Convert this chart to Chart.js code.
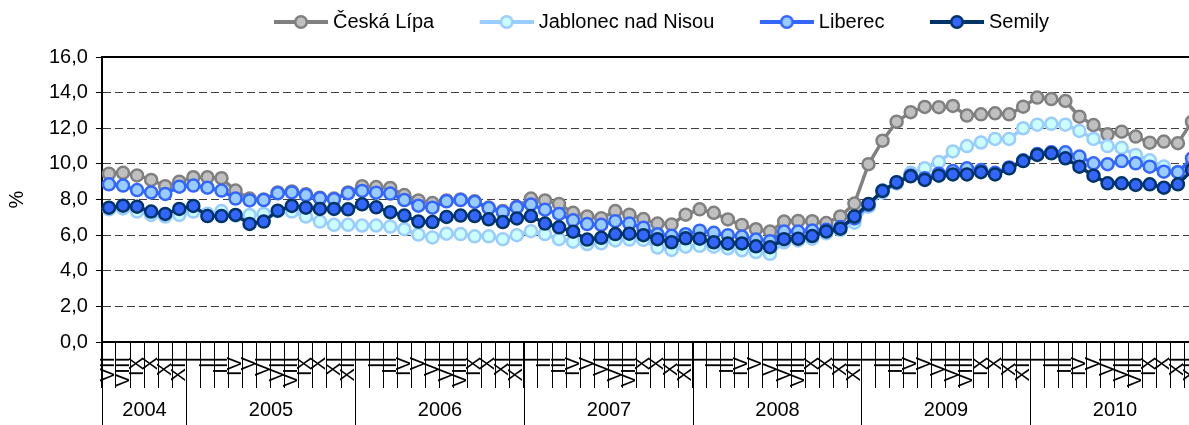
<!DOCTYPE html>
<html>
<head>
<meta charset="utf-8">
<script src="https://cdn.jsdelivr.net/npm/chart.js@4.4.1/dist/chart.umd.min.js"></script>
<style>
  html, body { margin: 0; padding: 0; background: #fff; overflow: hidden; }
  #wrap { width: 1189px; height: 425px; overflow: hidden; }
</style>
</head>
<body>
<div id="wrap"><canvas id="graf" width="1210" height="425"></canvas></div>
<script>
// Míra nezaměstnanosti (%) podle okresů, měsíčně VII/2004 - XII/2010
const roman = ['I', 'II', 'III', 'IV', 'V', 'VI', 'VII', 'VIII', 'IX', 'X', 'XI', 'XII'];
const years = ['2004', '2005', '2006', '2007', '2008', '2009', '2010'];
const yearMonths = [6, 12, 12, 12, 12, 12, 12];

const ceskaLipa = [
  9.45, 9.5, 9.35, 9.1, 8.75, 9.0,
  9.25, 9.25, 9.2, 8.5, 8.05, 8.0, 8.4, 8.45, 8.3, 8.1, 8.05, 8.4,
  8.75, 8.7, 8.65, 8.25, 7.95, 7.8, 7.95, 8.0, 7.9, 7.55, 7.35, 7.6,
  8.05, 7.95, 7.75, 7.25, 7.05, 6.95, 7.35, 7.15, 6.9, 6.65, 6.6, 7.15,
  7.45, 7.25, 6.88, 6.57, 6.33, 6.2, 6.76, 6.8, 6.78, 6.68, 7.05, 7.77,
  9.98, 11.3, 12.37, 12.9, 13.2, 13.18, 13.25, 12.71, 12.78, 12.84, 12.78, 13.21,
  13.72, 13.64, 13.53, 12.65, 12.18, 11.66, 11.81, 11.53, 11.19, 11.25, 11.16, 12.37
];
const jablonec = [
  7.45, 7.5, 7.32, 7.13, 7.04, 7.13,
  7.32, 7.2, 7.35, 7.1, 7.13, 7.19, 7.35, 7.32, 7.04, 6.76, 6.58, 6.58,
  6.54, 6.54, 6.48, 6.33, 6.03, 5.87, 6.08, 6.06, 5.93, 5.93, 5.77, 6.0,
  6.22, 6.06, 5.77, 5.63, 5.5, 5.54, 5.7, 5.75, 5.73, 5.3, 5.17, 5.35,
  5.4, 5.35, 5.26, 5.15, 5.05, 4.95, 5.6, 5.7, 5.8, 6.1, 6.3, 6.7,
  7.6, 8.4, 8.9, 9.5, 9.75, 10.1, 10.7, 11.0, 11.2, 11.4, 11.4, 12.0,
  12.2, 12.25, 12.2, 11.85, 11.4, 11.0, 10.9, 10.5, 10.2, 9.85, 9.55, 9.9
];
const liberec = [
  8.85, 8.78, 8.53, 8.4, 8.31, 8.72,
  8.78, 8.66, 8.5, 8.05, 7.95, 7.97, 8.35, 8.4, 8.25, 8.07, 8.01, 8.35,
  8.48, 8.38, 8.33, 7.97, 7.65, 7.54, 7.9, 7.97, 7.86, 7.52, 7.3, 7.56,
  7.72, 7.43, 7.19, 6.83, 6.62, 6.58, 6.78, 6.65, 6.42, 6.05, 5.96, 6.05,
  6.25, 6.13, 6.0, 5.92, 5.75, 5.66, 6.2, 6.2, 6.26, 6.3, 6.45, 6.94,
  7.7, 8.5, 8.95, 9.35, 9.2, 9.45, 9.6, 9.75, 9.65, 9.5, 9.8, 10.2,
  10.55, 10.65, 10.65, 10.41, 10.03, 9.98, 10.16, 10.03, 9.84, 9.56, 9.53, 10.31
];
const semily = [
  7.54, 7.65, 7.6, 7.32, 7.19, 7.47,
  7.64, 7.07, 7.07, 7.13, 6.63, 6.76, 7.37, 7.64, 7.54, 7.47, 7.47, 7.45,
  7.73, 7.56, 7.29, 7.1, 6.76, 6.73, 7.02, 7.1, 7.07, 6.89, 6.73, 6.94,
  7.07, 6.65, 6.44, 6.19, 5.75, 5.85, 6.06, 6.08, 6.0, 5.77, 5.6, 5.82,
  5.8, 5.6, 5.53, 5.53, 5.37, 5.32, 5.77, 5.8, 5.95, 6.21, 6.36, 7.05,
  7.75, 8.48, 8.97, 9.3, 9.1, 9.34, 9.41, 9.41, 9.53, 9.41, 9.75, 10.16,
  10.5, 10.59, 10.31, 9.84, 9.34, 8.91, 8.91, 8.82, 8.85, 8.66, 8.85, 9.66
];

// popisky měsíců (římská čísla)
const months = [];
yearMonths.forEach(n => {
  for (let m = 12 - n; m < 12; m++) months.push(roman[m]);
});

Chart.defaults.font.family = '"Liberation Sans", Arial, sans-serif';
Chart.defaults.font.size = 20;
Chart.defaults.color = '#000';

// značka do legendy: čára s kolečkem (vlevo prázdné místo jako mezera mezi položkami)
function legendSymbol(line, fill, edge) {
  const c = document.createElement('canvas');
  c.width = 81; c.height = 16;
  const g = c.getContext('2d');
  g.strokeStyle = line; g.lineWidth = 4;
  g.beginPath(); g.moveTo(27, 8); g.lineTo(81, 8); g.stroke();
  g.beginPath(); g.arc(54, 8, 5.75, 0, Math.PI * 2);
  g.fillStyle = fill; g.fill();
  g.lineWidth = 2.5; g.strokeStyle = edge; g.stroke();
  return c;
}

function serie(label, data, line, fill, order) {
  return {
    label: label,
    data: data,
    borderColor: line,
    backgroundColor: fill,
    pointBackgroundColor: fill,
    pointBorderColor: line,
    borderWidth: 3.5,
    pointRadius: 6,
    pointBorderWidth: 2.5,
    tension: 0,
    order: order
  };
}

const datasets = [
  serie('Česká Lípa', ceskaLipa, '#808080', '#C0C0C0', 4),
  serie('Jablonec nad Nisou', jablonec, '#99CCFF', '#CCFFFF', 3),
  serie('Liberec', liberec, '#3366FF', '#99CCFF', 2),
  serie('Semily', semily, '#003366', '#3366FF', 1)
];
const symbols = datasets.map(d => legendSymbol(d.borderColor, d.pointBackgroundColor, d.pointBorderColor));

// mezera pod legendou
const legendGap = {
  id: 'legendGap',
  beforeInit(chart) {
    const fit = chart.legend.fit;
    chart.legend.fit = function () {
      fit.call(this);
      this.height += 15;
    };
  }
};

// horní okraj grafu, roky a svislé čáry mezi roky
const yearAxis = {
  id: 'yearAxis',
  afterDraw(chart) {
    const { ctx, chartArea: a, scales: { x } } = chart;
    const half = (x.getPixelForValue(1) - x.getPixelForValue(0)) / 2;
    ctx.save();
    ctx.strokeStyle = '#000';
    ctx.lineWidth = 2;
    ctx.beginPath();
    ctx.moveTo(a.left - 1, a.top);
    ctx.lineTo(a.right, a.top);
    ctx.lineTo(a.right, a.bottom);
    ctx.stroke();

    ctx.lineWidth = 1;
    ctx.fillStyle = '#000';
    ctx.font = '20px "Liberation Sans", Arial, sans-serif';
    ctx.textAlign = 'center';
    ctx.textBaseline = 'middle';
    let start = 0;
    years.forEach((yr, k) => {
      const x0 = Math.round(x.getPixelForValue(start) - half) + 0.5;
      const x1 = Math.round(x.getPixelForValue(start + yearMonths[k] - 1) + half) + 0.5;
      ctx.beginPath();
      ctx.moveTo(x0, x.top);
      ctx.lineTo(x0, chart.height);
      ctx.moveTo(x1, x.top);
      ctx.lineTo(x1, chart.height);
      ctx.stroke();
      ctx.fillText(yr, (x0 + x1) / 2, x.top + 68);
      start += yearMonths[k];
    });
    ctx.restore();
  }
};

const ctx = document.getElementById('graf').getContext('2d');
const chart = new Chart(ctx, {
  type: 'line',
  data: { labels: months, datasets: datasets },
  plugins: [legendGap, yearAxis],
  options: {
    responsive: false,
    animation: false,
    devicePixelRatio: 1,
    layout: { padding: { top: -11.5, left: 0, right: 11, bottom: 0 } },
    plugins: {
      tooltip: { enabled: false },
      legend: {
        position: 'top',
        fullSize: false,
        labels: {
          usePointStyle: true,
          pointStyleWidth: 71,
          padding: 23.5,
          color: '#000',
          font: { size: 20 },
          sort: (a, b) => a.datasetIndex - b.datasetIndex,
          generateLabels(chart) {
            const items = Chart.defaults.plugins.legend.labels.generateLabels(chart);
            items.forEach(it => { it.pointStyle = symbols[it.datasetIndex]; });
            return items;
          }
        }
      }
    },
    scales: {
      x: {
        offset: true,
        afterFit: scale => { scale.height = 83; },
        grid: {
          display: true,
          drawOnChartArea: false,
          offset: true,
          drawTicks: true,
          tickLength: 46,
          color: '#000',
          tickColor: '#000',
          tickWidth: 1
        },
        border: { display: true, color: '#000', width: 2 },
        ticks: {
          autoSkip: false,
          minRotation: 90,
          maxRotation: 90,
          padding: -31,
          color: '#000',
          font: { size: 20 }
        }
      },
      y: {
        min: 0,
        max: 16,
        ticks: {
          stepSize: 2,
          padding: 8,
          color: '#000',
          font: { size: 20 },
          callback: v => v.toFixed(1).replace('.', ',')
        },
        grid: {
          color: c => (c.tick && (c.tick.value === 0 || c.tick.value === 16)) ? 'rgba(0,0,0,0)' : '#404040',
          lineWidth: 1,
          tickLength: 6,
          tickColor: '#000',
          tickWidth: 1,
          tickBorderDash: []
        },
        border: { display: true, color: '#000', width: 2, dash: [8, 4] },
        title: {
          display: true,
          text: '%',
          color: '#000',
          font: { size: 20 },
          padding: { top: 5, bottom: 12 }
        }
      }
    }
  }
});
</script>
</body>
</html>
